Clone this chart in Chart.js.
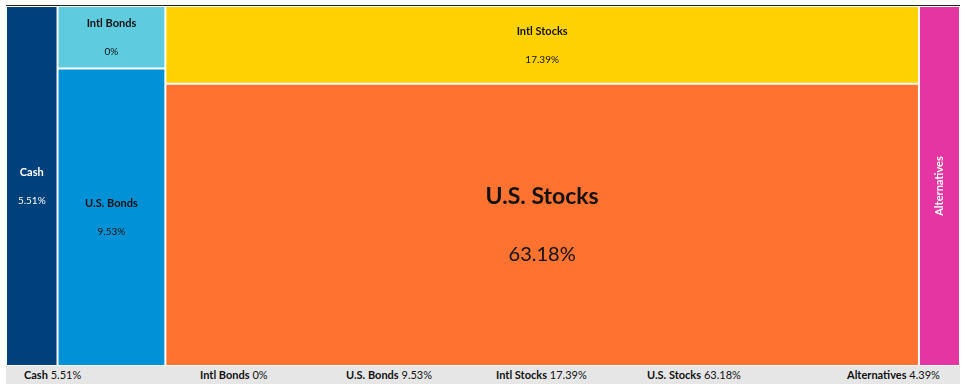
<!DOCTYPE html>
<html>
<head>
<meta charset="utf-8">
<script src="https://cdn.jsdelivr.net/npm/chart.js@4.4.1/dist/chart.umd.min.js"></script>
<style>
  body { margin: 0; background: #fff; font-family: Lato, "Noto Sans", sans-serif; }
  #wrap { position: absolute; left: 6px; top: 5px; width: 954px; border-top: 1px solid #222; }
  #box { position: relative; width: 954px; height: 360px; }
  #legend { position: relative; height: 18px; background: #e6e6e6; font-size: 11px; color: #111; }
  #legend .item { position: absolute; top: 0; line-height: 18px; white-space: nowrap; }
  #legend b { font-weight: 700; }
</style>
</head>
<body>
<div id="wrap">
  <div id="box"><canvas id="treemap"></canvas></div>
  <div id="legend"></div>
</div>
<script>
// Portfolio allocation
const categories = ['Cash', 'Intl Bonds', 'U.S. Bonds', 'Intl Stocks', 'U.S. Stocks', 'Alternatives'];
const percents = [5.51, 0, 9.53, 17.39, 63.18, 4.39];
const groups = ['Cash', 'Bonds', 'Bonds', 'Stocks', 'Stocks', 'Alternatives'];
const minShare = 2; // a 0% cell still gets a small box

// styles
const colors = ['#00417b', '#5ecbdf', '#0091d6', '#ffd200', '#ff722f', '#e535a3'];
const textColors = ['#fff', '#111', '#111', '#111', '#111', '#fff'];
const legendLeft = [18, 194, 340, 490, 641, 841];

// build the cells: one column per group, cells stacked top to bottom
const sizes = percents.map(p => Math.max(p, minShare));
const total = sizes.reduce((a, b) => a + b, 0);
const cells = [];
let x0 = 0;
[...new Set(groups)].forEach(g => {
  const idx = groups.map((gg, i) => gg === g ? i : -1).filter(i => i >= 0);
  const colSum = idx.reduce((s, i) => s + sizes[i], 0);
  let top = 100;
  idx.forEach(i => {
    const h = sizes[i] / colSum * 100;
    cells[i] = { x: x0 + colSum / 2, x0: x0, x1: x0 + colSum, y: [top - h, top] };
    top -= h;
  });
  x0 += colSum;
});

// bar controller whose bar widths come from the x scale
class TreemapController extends Chart.BarController {
  _calculateBarIndexPixels(index) {
    const scale = this._cachedMeta.iScale;
    const c = this.getDataset().data[index];
    const a = scale.getPixelForValue(c.x0);
    const b = scale.getPixelForValue(c.x1);
    return { base: Math.min(a, b), head: Math.max(a, b), center: (a + b) / 2, size: Math.abs(b - a) };
  }
}
TreemapController.id = 'treemapBar';
TreemapController.defaults = Chart.BarController.defaults;
TreemapController.overrides = Chart.BarController.overrides;
Chart.register(TreemapController);

const cellLabels = {
  id: 'cellLabels',
  afterDatasetsDraw(chart) {
    const ctx = chart.ctx;
    const meta = chart.getDatasetMeta(0);
    meta.data.forEach((bar, i) => {
      const p = bar.getProps(['x', 'y', 'base', 'width']);
      const cy = (p.y + p.base) / 2;
      ctx.save();
      ctx.fillStyle = textColors[i];
      ctx.textAlign = 'center';
      ctx.textBaseline = 'middle';
      if (p.width < 48) {
        ctx.translate(p.x, cy);
        ctx.rotate(-Math.PI / 2);
        ctx.font = 'bold 11px Lato';
        ctx.fillText(categories[i], 0, 0);
      } else if (percents[i] > 50) {
        ctx.font = 'bold 23px Lato';
        ctx.fillText(categories[i], p.x, cy - 28);
        ctx.font = '20px Lato';
        ctx.fillText(percents[i] + '%', p.x, cy + 30);
      } else {
        ctx.font = 'bold 11px Lato';
        ctx.fillText(categories[i], p.x, cy - 13.5);
        ctx.font = '10px Lato';
        ctx.fillText(percents[i] + '%', p.x, cy + 15);
      }
      ctx.restore();
    });
  }
};

new Chart(document.getElementById('treemap'), {
  type: 'treemapBar',
  data: {
    datasets: [{
      data: cells,
      backgroundColor: colors,
      borderColor: '#fff',
      borderWidth: 1,
      borderSkipped: false,
      inflateAmount: 0
    }]
  },
  options: {
    responsive: true,
    maintainAspectRatio: false,
    animation: false,
    events: [],
    layout: { padding: 0 },
    scales: {
      x: { type: 'linear', min: 0, max: total, display: false, offset: false },
      y: { type: 'linear', min: 0, max: 100, display: false }
    },
    plugins: { legend: { display: false }, tooltip: { enabled: false } }
  },
  plugins: [cellLabels]
});

// legend strip under the chart
const legend = document.getElementById('legend');
categories.forEach((c, i) => {
  const s = document.createElement('span');
  s.className = 'item';
  s.style.left = legendLeft[i] + 'px';
  s.innerHTML = '<b>' + c + '</b> ' + percents[i] + '%';
  legend.appendChild(s);
});
</script>
</body>
</html>
